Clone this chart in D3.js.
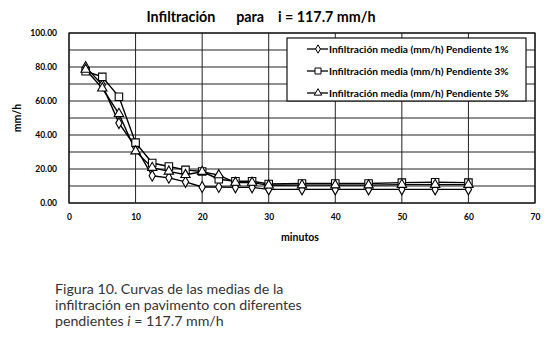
<!DOCTYPE html>
<html>
<head>
<meta charset="utf-8">
<script src="https://cdn.jsdelivr.net/npm/d3@7"></script>
<style>
  body { margin: 0; background: #fff; }
  svg { display: block; }
</style>
</head>
<body>
<div id="chart"></div>
<script>
const minutes = [2.5, 5, 7.5, 10, 12.5, 15, 17.5, 20, 22.5, 25, 27.5, 30, 35, 40, 45, 50, 55, 60];
const slope1 = [80, 69.5, 47, 33, 16, 14.8, 12.4, 9.4, 9.4, 9.2, 9.2, 8, 8, 8, 8, 8, 8, 8];
const slope3 = [77.5, 74.2, 62.5, 35.5, 23.5, 21.5, 19.5, 18.5, 14, 12.8, 12.8, 11.2, 11.5, 11.5, 11.5, 12, 12.2, 12];
const slope5 = [78.5, 67.5, 52.5, 30.5, 20.8, 18.6, 16.6, 18.4, 16.4, 12, 12, 10.4, 10.5, 10.5, 10.5, 10.8, 10.8, 10.8];
const seriesNames = [
  "Infiltración media (mm/h) Pendiente 1%",
  "Infiltración media (mm/h) Pendiente 3%",
  "Infiltración media (mm/h) Pendiente 5%"
];
const markers = ["diamond", "square", "triangle"];
const xTicks = [0, 10, 20, 30, 40, 50, 60, 70];
const yTicks = [0, 20, 40, 60, 80, 100];
const yGrid = [0, 10, 20, 30, 40, 50, 60, 70, 80, 90, 100];

const svgWidth = 548, svgHeight = 339;
const margin = { top: 33, right: 13, bottom: 136, left: 69 };
const chartWidth = svgWidth - margin.left - margin.right;
const chartHeight = svgHeight - margin.top - margin.bottom;
const font = "Lato, 'Open Sans', sans-serif";

const svg = d3.select("#chart")
  .append("svg")
  .attr("width", svgWidth)
  .attr("height", svgHeight);

const g = svg.append("g")
  .attr("transform", `translate(${margin.left}, ${margin.top})`);

const x = d3.scaleLinear().domain([0, 70]).range([0, chartWidth]);
const y = d3.scaleLinear().domain([0, 100]).range([chartHeight, 0]);

// grid
g.selectAll("line.hgrid")
  .data(yGrid)
  .enter()
  .append("line")
  .attr("x1", 0)
  .attr("x2", chartWidth)
  .attr("y1", d => y(d))
  .attr("y2", d => y(d))
  .attr("stroke", "#222")
  .attr("stroke-width", 1);

g.selectAll("line.vgrid")
  .data(xTicks)
  .enter()
  .append("line")
  .attr("x1", d => x(d))
  .attr("x2", d => x(d))
  .attr("y1", 0)
  .attr("y2", chartHeight)
  .attr("stroke", "#222")
  .attr("stroke-width", 1);

g.append("rect")
  .attr("width", chartWidth)
  .attr("height", chartHeight)
  .attr("fill", "none")
  .attr("stroke", "#111")
  .attr("stroke-width", 1.2);

// tick labels
const xAxis = g.append("g")
  .attr("transform", `translate(0, ${chartHeight})`)
  .call(d3.axisBottom(x).tickValues(xTicks).tickFormat(d3.format("d")).tickSize(0).tickPadding(11));
const yAxis = g.append("g")
  .call(d3.axisLeft(y).tickValues(yTicks).tickFormat(d3.format(".2f")).tickSize(0).tickPadding(12));
[xAxis, yAxis].forEach(a => {
  a.select(".domain").remove();
  a.selectAll("text")
    .style("font-family", font)
    .style("font-weight", "bold")
    .style("font-size", "8.5px")
    .attr("fill", "#000");
});

const symbolFor = {
  diamond: d3.symbol().type(d3.symbolDiamond).size(34),
  square: d3.symbol().type(d3.symbolSquare).size(56),
  triangle: d3.symbol().type(d3.symbolTriangle).size(38)
};
const legendSymbol = {
  diamond: d3.symbol().type(d3.symbolDiamond).size(20),
  square: d3.symbol().type(d3.symbolSquare).size(36),
  triangle: d3.symbol().type(d3.symbolTriangle).size(24)
};

const series = [slope1, slope3, slope5];
const line = d3.line().x((d, i) => x(minutes[i])).y(d => y(d));

series.forEach(vals => {
  g.append("path")
    .datum(vals)
    .attr("d", line)
    .attr("fill", "none")
    .attr("stroke", "#000")
    .attr("stroke-width", 1.4);
});

series.forEach((vals, k) => {
  g.selectAll(`path.m${k}`)
    .data(vals)
    .enter()
    .append("path")
    .attr("class", `m${k}`)
    .attr("d", symbolFor[markers[k]])
    .attr("transform", (d, i) => `translate(${x(minutes[i])}, ${y(d)})`)
    .attr("fill", "#fff")
    .attr("stroke", "#000")
    .attr("stroke-width", 1.1);
});

// legend
const legend = svg.append("g").attr("transform", "translate(287, 38)");
legend.append("rect")
  .attr("width", 239)
  .attr("height", 63)
  .attr("fill", "#fff")
  .attr("stroke", "#111")
  .attr("stroke-width", 1.2);

seriesNames.forEach((name, k) => {
  const ly = 11 + k * 22;
  legend.append("line")
    .attr("x1", 20).attr("x2", 41)
    .attr("y1", ly).attr("y2", ly)
    .attr("stroke", "#000").attr("stroke-width", 1.3);
  legend.append("path")
    .attr("d", legendSymbol[markers[k]])
    .attr("transform", `translate(31, ${ly})`)
    .attr("fill", "#fff")
    .attr("stroke", "#000")
    .attr("stroke-width", 1);
  legend.append("text")
    .attr("x", 42)
    .attr("y", ly + 3.5)
    .style("font-family", font)
    .style("font-weight", "bold")
    .style("font-size", "10.2px")
    .text(name);
});

// title
svg.append("text")
  .attr("x", 261)
  .attr("y", 22)
  .attr("text-anchor", "middle")
  .style("font-family", font)
  .style("font-weight", "bold")
  .style("font-size", "14.3px")
  .style("white-space", "pre")
  .attr("xml:space", "preserve")
  .text("Infiltración      para    i = 117.7 mm/h");

svg.append("text")
  .attr("x", 300)
  .attr("y", 241)
  .attr("text-anchor", "middle")
  .style("font-family", font)
  .style("font-weight", "bold")
  .style("font-size", "10.5px")
  .text("minutos");

svg.append("text")
  .attr("transform", "translate(21, 118) rotate(-90)")
  .attr("text-anchor", "middle")
  .style("font-family", font)
  .style("font-weight", "bold")
  .style("font-size", "10.5px")
  .text("mm/h");

// caption
const caption = svg.append("text")
  .style("font-family", font)
  .style("font-size", "14.2px")
  .attr("fill", "#333");
caption.append("tspan").attr("x", 55).attr("y", 294).text("Figura 10. Curvas de las medias de la");
caption.append("tspan").attr("x", 55).attr("y", 310).text("infiltración en pavimento con diferentes");
const l3 = caption.append("tspan").attr("x", 55).attr("y", 326);
l3.append("tspan").text("pendientes ");
l3.append("tspan").style("font-style", "italic").text("i");
l3.append("tspan").text(" = 117.7 mm/h");
</script>
</body>
</html>
